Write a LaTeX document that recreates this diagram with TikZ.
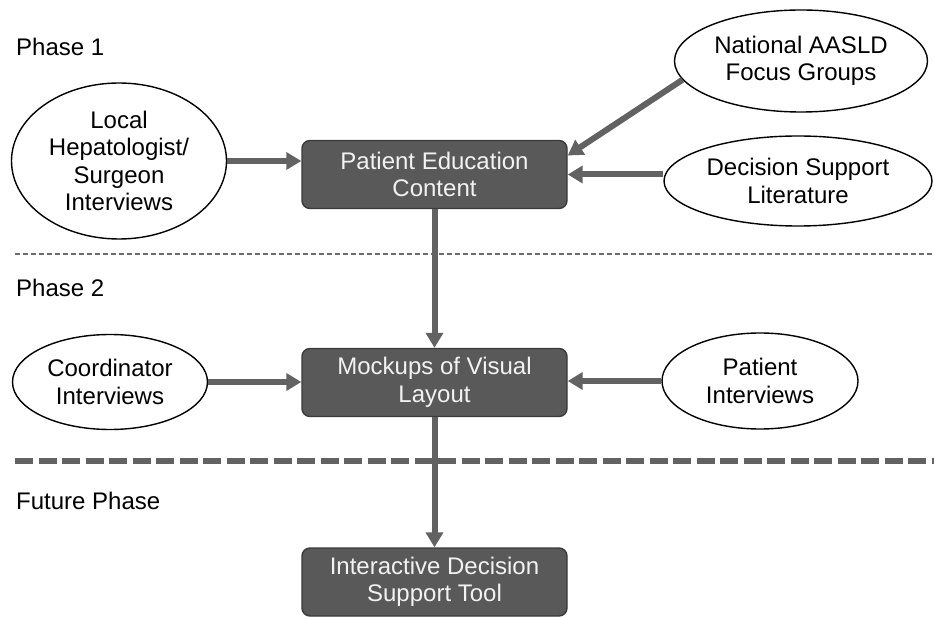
\documentclass[tikz,border=0pt]{standalone}
\usepackage{fontspec}
\setmainfont{Liberation Sans}
\usetikzlibrary{shapes.geometric,arrows.meta,calc}
\definecolor{boxfill}{HTML}{595959}
\definecolor{boxline}{HTML}{3A3A3A}
\definecolor{arrgray}{HTML}{626262}
\definecolor{boxtext}{HTML}{F2F2F2}
\begin{document}
\begin{tikzpicture}[x=1pt,y=-1pt,
  font=\fontsize{24}{27.5}\selectfont,
  ell/.style={ellipse, draw=black, line width=1.4pt, fill=white, inner sep=0pt, align=center},
  box/.style={rectangle, rounded corners=8pt, draw=boxline, fill=boxfill, text=boxtext,
    line width=1.4pt, minimum width=265pt, minimum height=68pt, align=center, inner sep=0pt},
  arr/.style={draw=arrgray, line width=6pt, -{Triangle[length=15pt,width=17pt]}},
  lbl/.style={anchor=base west, inner sep=0pt},
  thindash/.style={draw=gray!85!black, line width=1.5pt, dash pattern=on 5pt off 3pt},
  thickdash/.style={draw=arrgray, line width=5.5pt, dash pattern=on 18pt off 5.5pt}]
\useasboundingbox (0,0) rectangle (934,617);

% phase labels
\node[lbl] (p1) at (16,56) {Phase 1};
\node[lbl] (p2) at (16,297) {Phase 2};
\node[lbl] (fp) at (16,509) {Future Phase};

% separators
\coordinate (d1l) at (15,254);
\coordinate (d1r) at (934,254);
\coordinate (d2l) at (15,461);
\coordinate (d2r) at (934,461);
\draw[thindash] (d1l) -- (d1r);
\draw[thickdash] (d2l) -- (d2r);

% main boxes
\node[box] (pec) at (434.5,174.5) {Patient Education\\Content};
\node[box] (moc) at (434.5,382.5) {Mockups of Visual\\Layout};
\node[box] (int) at (434.5,582) {Interactive Decision\\Support Tool};

% sources
\node[ell, minimum width=215pt, minimum height=156pt] (loc) at (119,161) {Local\\Hepatologist/\\Surgeon\\Interviews};
\node[ell, minimum width=253pt, minimum height=102pt] (nat) at (801,61) {National AASLD\\Focus Groups};
\node[ell, minimum width=268pt, minimum height=90pt] (dec) at (798,181) {Decision Support\\Literature};
\node[ell, minimum width=195pt, minimum height=95pt] (coo) at (110,382) {Coordinator\\Interviews};
\node[ell, minimum width=196pt, minimum height=96pt] (pat) at (760,381) {Patient\\Interviews};

% connectors
\draw[arr] (loc.east) -- (loc.east -| pec.west);
\draw[arr] (nat.189) -- ($(pec.east)+(0,-19)$);
\draw[arr] (dec.west |- pec.east) -- (pec.east);
\draw[arr] (coo.east) -- (coo.east -| moc.west);
\draw[arr] (pat.west) -- (pat.west -| moc.east);
\draw[arr] (pec.south) -- (moc.north);
\draw[arr] (moc.south) -- (int.north);
\end{tikzpicture}
\end{document}
